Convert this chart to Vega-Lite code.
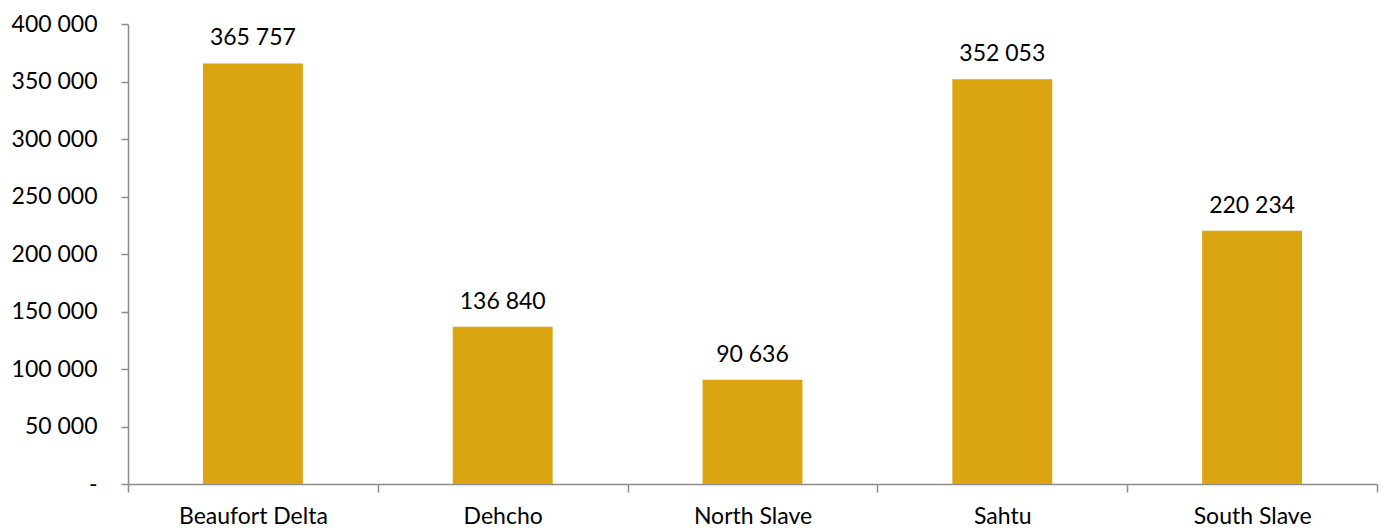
{
  "$schema": "https://vega.github.io/schema/vega-lite/v6.json",
  "width": 1249,
  "height": 460,
  "autosize": "none",
  "padding": {"left": 128, "top": 24, "right": 4, "bottom": 45},
  "background": "white",
  "config": {
    "view": {"stroke": null},
    "font": "Lato",
    "locale": {"number": {"decimal": ",", "thousands": " ", "grouping": [3], "currency": ["", ""]}}
  },
  "data": {
    "values": [
      {"region": "Beaufort Delta", "value": 365757},
      {"region": "Dehcho", "value": 136840},
      {"region": "North Slave", "value": 90636},
      {"region": "Sahtu", "value": 352053},
      {"region": "South Slave", "value": 220234}
    ]
  },
  "encoding": {
    "x": {
      "field": "region",
      "type": "nominal",
      "sort": null,
      "scale": {"paddingInner": 0, "paddingOuter": 0},
      "axis": {
        "title": null,
        "labelAngle": 0,
        "labelFont": "Lato",
        "labelFontSize": 23,
        "labelColor": "#000000",
        "labelPadding": 13,
        "labelBaseline": "top",
        "tickBand": "extent",
        "tickSize": 8,
        "tickColor": "#8c8c8c",
        "tickWidth": 1.5,
        "domainColor": "#8c8c8c",
        "domainWidth": 1.5
      }
    },
    "y": {
      "field": "value",
      "type": "quantitative",
      "scale": {"domain": [0, 400000], "nice": false},
      "axis": {
        "title": null,
        "values": [0, 50000, 100000, 150000, 200000, 250000, 300000, 350000, 400000],
        "labelExpr": "datum.value == 0 ? '-' : format(datum.value, ',')",
        "labelFont": "Lato",
        "labelFontSize": 23,
        "labelColor": "#000000",
        "labelPadding": 24,
        "tickSize": 7,
        "tickColor": "#8c8c8c",
        "tickWidth": 1.5,
        "domainColor": "#8c8c8c",
        "domainWidth": 1.5,
        "grid": false
      }
    }
  },
  "layer": [
    {"mark": {"type": "bar", "color": "#DAA511", "width": {"band": 0.4}}},
    {
      "mark": {"type": "text", "baseline": "alphabetic", "dy": -18, "fontSize": 23, "font": "Lato", "color": "#000000"},
      "encoding": {"text": {"field": "value", "type": "quantitative", "format": ","}}
    }
  ]
}
